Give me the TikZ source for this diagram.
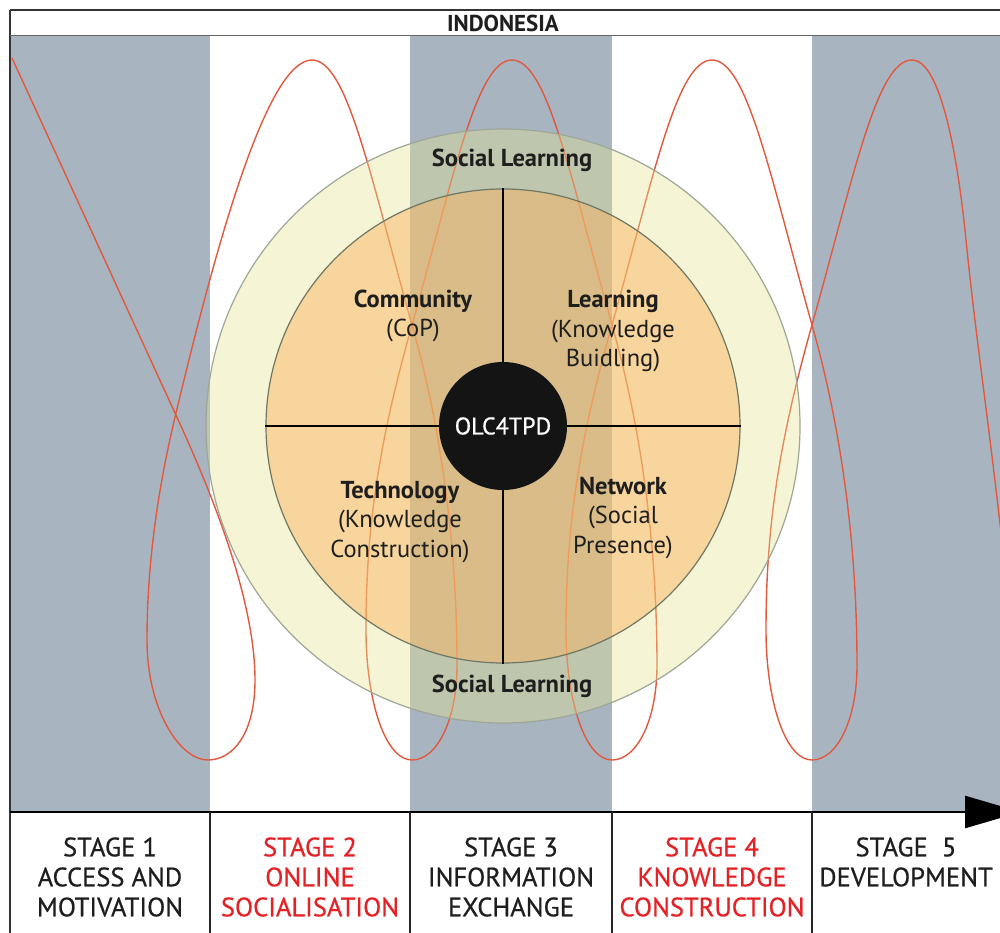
\documentclass[tikz,border=0pt]{standalone}
\usepackage{fontspec}
\setmainfont{PT Sans}
\newfontfamily\stagefont[FakeBold=0.6]{PT Sans}
\newfontfamily\hubfont[FakeBold=0.8]{PT Sans}
\usetikzlibrary{arrows.meta}
\definecolor{colgray}{RGB}{168,181,193}
\definecolor{ringfill}{RGB}{230,230,141}
\definecolor{innerfill}{RGB}{250,177,93}
\definecolor{curvered}{RGB}{226,88,62}
\definecolor{stagered}{RGB}{228,34,38}
\definecolor{ringline}{RGB}{158,166,150}
\definecolor{innerline}{RGB}{110,118,100}
\definecolor{textdark}{RGB}{30,30,30}
\begin{document}
\begin{tikzpicture}[x=1pt,y=-1pt,
  colband/.style={fill=colgray},
  coil/.style={draw=curvered,line width=1.4pt},
  ring/.style={circle,fill=ringfill,fill opacity=0.36,draw=ringline,draw opacity=1,line width=1.2pt,minimum size=594pt,inner sep=0pt},
  inner/.style={circle,fill=innerfill,fill opacity=0.46,draw=innerline,draw opacity=1,line width=1.2pt,minimum size=474pt,inner sep=0pt},
  hub/.style={circle,fill=black!92,minimum size=128pt,inner sep=0pt,text=white,font=\hubfont\fontsize{24}{28}\selectfont},
  stagelbl/.style={align=center,text=textdark,font=\stagefont\fontsize{26.5}{30}\selectfont},
  redlbl/.style={stagelbl,text=stagered},
  clbl/.style={align=center,text=textdark,font=\fontsize{24.5}{29.5}\selectfont},
  sep/.style={draw=black!85,line width=1.4pt},
  timeline/.style={draw=black,line width=2.5pt,-{Triangle[length=56pt,width=32pt]}}
]
\useasboundingbox (0,0) rectangle (1000,933);
\fill[white] (0,0) rectangle (1000,933);
% stage columns
\fill[colband] (10,36) rectangle (210,812);
\fill[colband] (410,36) rectangle (612,812);
\fill[colband] (812,36) rectangle (1000,812);
% coil curve
\begin{scope}
\clip (10,36) rectangle (1000,812);
\draw[coil] (12,58) -- (175,413)
  .. controls (212,493) and (255,600) .. (255,680)
  .. controls (255,735) and (232,760) .. (208,760)
  .. controls (180,760) and (147,710) .. (147,640)
  .. controls (147,540) and (166,455) .. (176,413)
  .. controls (212,263) and (265,60) .. (312,60)
  \foreach \xb in {412,612,812}{
  .. controls ({\xb-65},60) and ({\xb-42},175) .. (\xb,325)
  .. controls ({\xb+34},445) and ({\xb+45},565) .. ({\xb+45},665)
  .. controls ({\xb+45},720) and ({\xb+25},760) .. (\xb,760)
  .. controls ({\xb-27},760) and ({\xb-46},700) .. ({\xb-46},630)
  .. controls ({\xb-46},530) and ({\xb-34},445) .. (\xb,325)
  .. controls ({\xb+42},175) and ({\xb+65},60) .. ({\xb+100},60)
  }
  .. controls (938,60) and (956,140) .. (966,240)
  .. controls (976,340) and (990,430) .. (1004,560);
\end{scope}
% circles
\node[ring] (outer) at (503,426) {};
\node[inner] (mid) at (503,426) {};
\draw[line width=1.6pt] (mid.north) -- (mid.south);
\draw[line width=1.6pt] (mid.west) -- (mid.east);
\node[hub] (olc) at (503,426) {OLC4TPD};
% circle labels
\node[clbl] (sltop) at (512,160) {\bfseries Social Learning};
\node[clbl] (slbot) at (512,686) {\bfseries Social Learning};
\node[clbl] (comm) at (413,316) {\textbf{Community}\\(CoP)};
\node[clbl] (learn) at (613,331) {\textbf{Learning}\\(Knowledge\\Buidling)};
\node[clbl] (tech) at (400,522) {\textbf{Technology}\\(Knowledge\\Construction)};
\node[clbl] (netw) at (623,518) {\textbf{Network}\\(Social\\Presence)};
% frame
\draw[draw=black!80,line width=1.5pt] (10,10) -- (1000,10);
\draw[draw=black!80,line width=1.8pt] (10,10) -- (10,933);
\draw[draw=black!60,line width=1pt] (10,36) -- (1000,36);
\node[font=\fontsize{23}{26}\selectfont\bfseries,text=textdark] (title) at (503,23) {INDONESIA};
% timeline
\coordinate (tstart) at (10,812);
\coordinate (tend) at (1021,812);
\draw[timeline] (tstart) -- (tend);
\foreach \xx/\nm in {210/a,410/b,612/c,812/d}{
  \coordinate (s\nm top) at (\xx,812);
  \coordinate (s\nm bot) at (\xx,933);
  \draw[sep] (s\nm top) -- (s\nm bot);
}
% stage labels
\node[stagelbl] (st1) at (110,877) {STAGE 1\\ACCESS AND\\MOTIVATION};
\node[redlbl] (st2) at (310,877) {STAGE 2\\ONLINE\\SOCIALISATION};
\node[stagelbl] (st3) at (511,877) {STAGE 3\\INFORMATION\\EXCHANGE};
\node[redlbl] (st4) at (712,877) {STAGE 4\\KNOWLEDGE\\CONSTRUCTION};
\node[stagelbl] (st5) at (906,862) {STAGE\ \ 5\\DEVELOPMENT};
\end{tikzpicture}
\end{document}
